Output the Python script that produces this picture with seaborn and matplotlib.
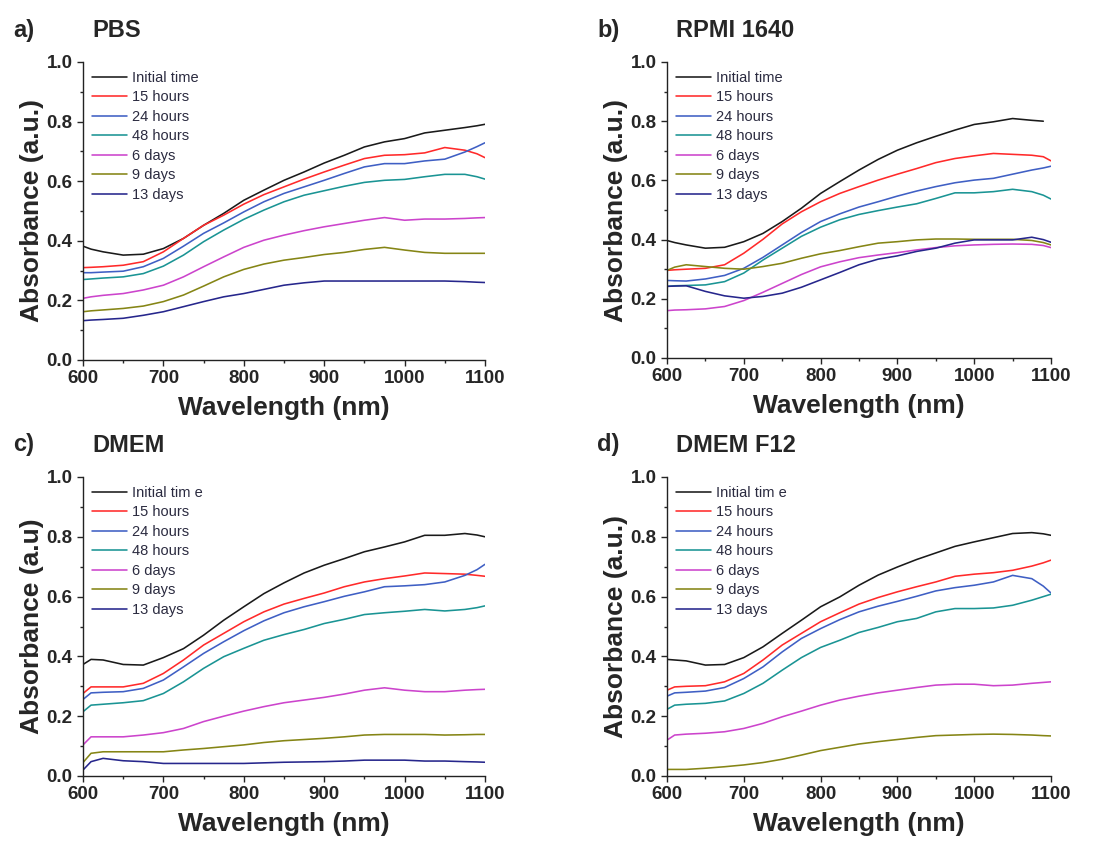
import numpy as np
import pandas as pd
import seaborn as sns
import matplotlib
matplotlib.use("Agg")
import matplotlib.pyplot as plt
from matplotlib.ticker import MultipleLocator, FormatStrFormatter

# wavelength grid (nm) shared by every curve
wavelength = [600, 610, 625, 650, 675, 700, 725, 750, 775, 800, 825, 850, 875,
              900, 925, 950, 975, 1000, 1025, 1050, 1075, 1090, 1100]

series_names = ["Initial time", "15 hours", "24 hours", "48 hours", "6 days", "9 days", "13 days"]
series_names_cd = ["Initial tim e", "15 hours", "24 hours", "48 hours", "6 days", "9 days", "13 days"]

# a) PBS
pbs_initial = [0.382, 0.372, 0.363, 0.352, 0.355, 0.374, 0.408, 0.452, 0.492, 0.536, 0.570, 0.603, 0.631, 0.661, 0.687, 0.715, 0.732, 0.743, 0.762, 0.771, 0.780, 0.786, 0.791]
pbs_15h = [0.310, 0.311, 0.313, 0.318, 0.330, 0.363, 0.408, 0.452, 0.486, 0.523, 0.555, 0.581, 0.607, 0.631, 0.654, 0.676, 0.687, 0.689, 0.695, 0.713, 0.704, 0.692, 0.679]
pbs_24h = [0.293, 0.293, 0.295, 0.298, 0.313, 0.341, 0.382, 0.425, 0.460, 0.497, 0.531, 0.559, 0.581, 0.603, 0.626, 0.648, 0.659, 0.659, 0.668, 0.674, 0.698, 0.716, 0.729]
pbs_48h = [0.270, 0.272, 0.275, 0.279, 0.290, 0.315, 0.352, 0.397, 0.436, 0.472, 0.503, 0.531, 0.553, 0.568, 0.583, 0.596, 0.603, 0.606, 0.615, 0.623, 0.623, 0.615, 0.607]
pbs_6d = [0.207, 0.212, 0.217, 0.223, 0.235, 0.251, 0.279, 0.313, 0.346, 0.378, 0.402, 0.419, 0.434, 0.447, 0.458, 0.469, 0.478, 0.469, 0.473, 0.473, 0.475, 0.477, 0.478]
pbs_9d = [0.162, 0.165, 0.168, 0.173, 0.181, 0.196, 0.218, 0.248, 0.279, 0.304, 0.322, 0.335, 0.344, 0.354, 0.361, 0.371, 0.378, 0.369, 0.361, 0.358, 0.358, 0.358, 0.358]
pbs_13d = [0.132, 0.134, 0.136, 0.140, 0.150, 0.162, 0.179, 0.196, 0.212, 0.223, 0.237, 0.251, 0.259, 0.265, 0.265, 0.265, 0.265, 0.265, 0.265, 0.265, 0.263, 0.261, 0.260]

# b) RPMI 1640
rpmi_initial = [0.397, 0.390, 0.382, 0.371, 0.374, 0.393, 0.421, 0.461, 0.506, 0.556, 0.596, 0.635, 0.671, 0.702, 0.727, 0.749, 0.770, 0.789, 0.798, 0.809, 0.803, 0.800, np.nan]
rpmi_15h = [0.296, 0.298, 0.300, 0.303, 0.315, 0.354, 0.401, 0.453, 0.494, 0.528, 0.556, 0.579, 0.601, 0.621, 0.640, 0.660, 0.674, 0.683, 0.691, 0.688, 0.685, 0.680, 0.666]
rpmi_24h = [0.262, 0.261, 0.260, 0.267, 0.279, 0.303, 0.340, 0.382, 0.424, 0.461, 0.487, 0.510, 0.528, 0.547, 0.564, 0.579, 0.592, 0.601, 0.607, 0.621, 0.635, 0.642, 0.648]
rpmi_48h = [0.242, 0.244, 0.245, 0.247, 0.258, 0.287, 0.331, 0.371, 0.411, 0.442, 0.467, 0.485, 0.498, 0.510, 0.521, 0.539, 0.558, 0.558, 0.562, 0.570, 0.562, 0.550, 0.537]
rpmi_6d = [0.160, 0.162, 0.163, 0.166, 0.174, 0.194, 0.222, 0.252, 0.282, 0.308, 0.325, 0.339, 0.348, 0.356, 0.365, 0.373, 0.379, 0.382, 0.384, 0.385, 0.384, 0.380, 0.373]
rpmi_9d = [0.296, 0.307, 0.315, 0.309, 0.303, 0.300, 0.309, 0.320, 0.337, 0.352, 0.363, 0.376, 0.388, 0.393, 0.399, 0.402, 0.402, 0.401, 0.401, 0.401, 0.397, 0.390, 0.382]
rpmi_13d = [0.242, 0.243, 0.244, 0.225, 0.210, 0.202, 0.208, 0.219, 0.239, 0.264, 0.289, 0.315, 0.334, 0.345, 0.360, 0.371, 0.388, 0.399, 0.399, 0.399, 0.408, 0.400, 0.391]

# c) DMEM
dmem_initial = [0.373, 0.390, 0.388, 0.373, 0.371, 0.396, 0.426, 0.471, 0.521, 0.566, 0.610, 0.646, 0.679, 0.705, 0.727, 0.750, 0.766, 0.783, 0.805, 0.805, 0.811, 0.806, 0.800]
dmem_15h = [0.276, 0.298, 0.298, 0.298, 0.310, 0.343, 0.388, 0.438, 0.477, 0.516, 0.549, 0.575, 0.594, 0.612, 0.633, 0.649, 0.660, 0.669, 0.679, 0.677, 0.675, 0.671, 0.668]
dmem_24h = [0.256, 0.278, 0.280, 0.282, 0.293, 0.321, 0.365, 0.410, 0.449, 0.486, 0.519, 0.546, 0.566, 0.583, 0.601, 0.616, 0.633, 0.636, 0.640, 0.649, 0.671, 0.690, 0.708]
dmem_48h = [0.215, 0.237, 0.240, 0.245, 0.252, 0.276, 0.315, 0.360, 0.399, 0.427, 0.454, 0.473, 0.490, 0.510, 0.524, 0.540, 0.546, 0.551, 0.557, 0.552, 0.557, 0.563, 0.569]
dmem_6d = [0.104, 0.131, 0.131, 0.131, 0.137, 0.145, 0.159, 0.182, 0.200, 0.217, 0.232, 0.245, 0.254, 0.263, 0.274, 0.287, 0.295, 0.287, 0.282, 0.282, 0.287, 0.289, 0.290]
dmem_9d = [0.045, 0.076, 0.081, 0.081, 0.081, 0.081, 0.087, 0.092, 0.098, 0.104, 0.112, 0.118, 0.122, 0.126, 0.131, 0.137, 0.139, 0.139, 0.139, 0.137, 0.138, 0.139, 0.139]
dmem_13d = [0.020, 0.048, 0.059, 0.051, 0.048, 0.042, 0.042, 0.042, 0.042, 0.042, 0.044, 0.046, 0.047, 0.048, 0.050, 0.053, 0.053, 0.053, 0.050, 0.050, 0.048, 0.047, 0.046]

# d) DMEM F12 (13 days curve not shown in the original, only in the legend)
f12_initial = [0.390, 0.388, 0.385, 0.371, 0.373, 0.396, 0.432, 0.477, 0.521, 0.566, 0.599, 0.638, 0.672, 0.699, 0.724, 0.746, 0.768, 0.783, 0.797, 0.811, 0.814, 0.810, 0.805]
f12_15h = [0.287, 0.298, 0.300, 0.302, 0.315, 0.343, 0.388, 0.438, 0.477, 0.516, 0.546, 0.575, 0.597, 0.616, 0.633, 0.649, 0.668, 0.675, 0.680, 0.688, 0.702, 0.713, 0.722]
f12_24h = [0.267, 0.278, 0.280, 0.284, 0.296, 0.326, 0.365, 0.415, 0.460, 0.493, 0.523, 0.549, 0.568, 0.584, 0.601, 0.619, 0.630, 0.638, 0.649, 0.671, 0.660, 0.635, 0.612]
f12_48h = [0.223, 0.237, 0.240, 0.243, 0.251, 0.276, 0.310, 0.354, 0.396, 0.430, 0.454, 0.480, 0.497, 0.516, 0.527, 0.549, 0.560, 0.560, 0.562, 0.571, 0.588, 0.600, 0.608]
f12_6d = [0.120, 0.137, 0.140, 0.143, 0.148, 0.159, 0.176, 0.198, 0.217, 0.237, 0.254, 0.267, 0.278, 0.287, 0.296, 0.304, 0.307, 0.307, 0.302, 0.304, 0.310, 0.313, 0.315]
f12_9d = [0.022, 0.022, 0.022, 0.026, 0.031, 0.037, 0.045, 0.056, 0.070, 0.085, 0.096, 0.107, 0.115, 0.122, 0.129, 0.135, 0.137, 0.139, 0.140, 0.139, 0.137, 0.135, 0.134]
f12_13d = [np.nan] * len(wavelength)

colors = ["#1a1a1a", "#ff2a2a", "#3f5fc4", "#1a9494", "#cc44cc", "#858515", "#26268c"]

sns.set_style("ticks")
plt.rcParams['font.family'] = ['Liberation Sans', 'DejaVu Sans']

fig = plt.figure(figsize=(10.98, 8.44), dpi=100)

panels = [
    ("a)", "PBS", "Absorbance (a.u.)", series_names,
     [pbs_initial, pbs_15h, pbs_24h, pbs_48h, pbs_6d, pbs_9d, pbs_13d],
     [83 / 1098, 484 / 844, 402 / 1098, 298 / 844]),
    ("b)", "RPMI 1640", "Absorbance (a.u.)", series_names,
     [rpmi_initial, rpmi_15h, rpmi_24h, rpmi_48h, rpmi_6d, rpmi_9d, rpmi_13d],
     [667 / 1098, 486 / 844, 384 / 1098, 296 / 844]),
    ("c)", "DMEM", "Absorbance (a.u)", series_names_cd,
     [dmem_initial, dmem_15h, dmem_24h, dmem_48h, dmem_6d, dmem_9d, dmem_13d],
     [83 / 1098, 68 / 844, 402 / 1098, 299 / 844]),
    ("d)", "DMEM F12", "Absorbance (a.u.)", series_names_cd,
     [f12_initial, f12_15h, f12_24h, f12_48h, f12_6d, f12_9d, f12_13d],
     [667 / 1098, 68 / 844, 384 / 1098, 299 / 844]),
]

for letter, title, ylab, names, curves, rect in panels:
    ax = fig.add_axes(rect)
    rows = []
    for name, vals in zip(names, curves):
        for w, v in zip(wavelength, vals):
            rows.append({"Wavelength": w, "Absorbance": v, "Sample": name})
    df = pd.DataFrame(rows)
    palette = dict(zip(names, colors))
    sns.lineplot(data=df.dropna(), x="Wavelength", y="Absorbance", hue="Sample",
                 hue_order=[n for n, c in zip(names, curves) if not np.all(np.isnan(c))],
                 palette=palette, linewidth=1.15, ax=ax, legend=False)
    # legend entries (all seven, including ones without data)
    for name, col in zip(names, colors):
        ax.plot([], [], color=col, linewidth=1.15, label=name)

    ax.set_xlim(600, 1100)
    ax.set_ylim(0, 1.0)
    ax.xaxis.set_major_locator(MultipleLocator(100))
    ax.xaxis.set_minor_locator(MultipleLocator(50))
    ax.yaxis.set_major_locator(MultipleLocator(0.2))
    ax.yaxis.set_minor_locator(MultipleLocator(0.1))
    ax.yaxis.set_major_formatter(FormatStrFormatter("%.1f"))
    ax.tick_params(which='major', direction='out', length=4, width=1, labelsize=13.5)
    ax.tick_params(which='minor', direction='out', length=2.5, width=1)
    for lbl in ax.get_xticklabels() + ax.get_yticklabels():
        lbl.set_fontweight('bold')
    for s in ['top', 'right']:
        ax.spines[s].set_visible(False)
    for s in ['left', 'bottom']:
        ax.spines[s].set_linewidth(1)
        ax.spines[s].set_color('#222222')

    ax.set_xlabel("Wavelength (nm)", fontsize=19, fontweight='bold', labelpad=6)
    ax.set_ylabel(ylab, fontsize=19, fontweight='bold', labelpad=2)

    leg = ax.legend(loc='upper left', bbox_to_anchor=(0.0, 1.0), frameon=False,
                    fontsize=10.5, handlelength=2.4, handletextpad=0.35,
                    labelspacing=0.38, borderaxespad=0.2)
    for t in leg.get_texts():
        t.set_color('#2b2b40')

    x0 = rect[0] * 1098
    ytop = (1 - (rect[1] + rect[3])) * 844
    fig.text((x0 - 70) / 1098, 1 - (ytop - 32) / 844, letter, fontsize=17,
             fontweight='bold', ha='left', va='center')
    fig.text((x0 + 9) / 1098, 1 - (ytop - 32) / 844, title, fontsize=17,
             fontweight='bold', ha='left', va='center')

fig.savefig("out.png", dpi=100)
